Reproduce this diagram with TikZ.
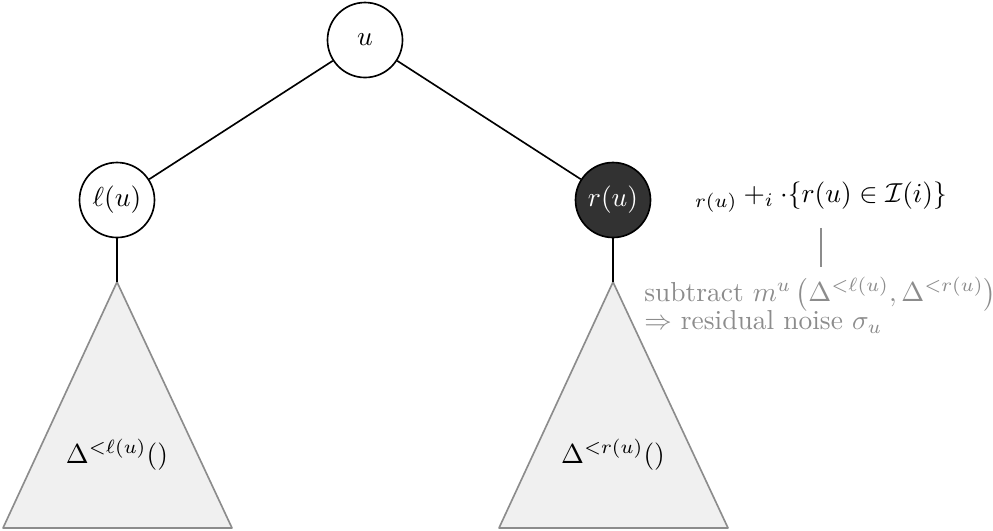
\documentclass[tikz,border=0pt]{standalone}
\usepackage{amsmath,amssymb}
\usepackage{xcolor}
\definecolor{darknode}{RGB}{50, 50, 50}
\definecolor{subtreefill}{RGB}{240, 240, 240}
\definecolor{softgray}{RGB}{140, 140, 140}
\usepackage{tikz}
\usetikzlibrary{positioning, calc}

\begin{document}
\begin{tikzpicture}[x=0.0128cm, y=-0.0128cm,
    treenode/.style={circle, draw, semithick, fill=white, minimum size=0.96cm, inner sep=0pt},
    marked/.style={treenode, fill=darknode, text=white},
    subtree/.style={draw=softgray, fill=subtreefill, semithick, line join=round},
    note/.style={text=softgray, align=left, inner sep=1pt}]
    \useasboundingbox (0,0) rectangle (993,530);
    % tree nodes
    \node[treenode] (u) at (365,40) {$u$};
    \node[treenode] (lu) at (117,200) {$\ell(u)$};
    \node[marked] (ru) at (613,200) {$r(u)$};
    \draw[semithick] (u) -- (lu);
    \draw[semithick] (u) -- (ru);
    % subtrees
    \coordinate (ltop) at (117,282);
    \coordinate (rtop) at (613,282);
    \draw[subtree] (ltop) -- (3,528) -- (232,528) -- cycle;
    \draw[subtree] (rtop) -- (499,528) -- (728,528) -- cycle;
    \draw[semithick] (lu) -- (ltop);
    \draw[semithick] (ru) -- (rtop);
    \node (ldelta) at (117,455) {$\Delta^{<\ell(u)}()$};
    \node (rdelta) at (613,455) {$\Delta^{<r(u)}()$};
    % annotation
    \node (ann) at (821,197) {$_{r(u)} +_i \cdot\{r(u) \in \mathcal{I}(i)\}$};
    \node[note, anchor=north west] (sub) at (641,274)
        {subtract $m^u\left(\Delta^{<\ell(u)}, \Delta^{<r(u)}\right)$\\[-2pt]
         $\Rightarrow$ residual noise $\sigma_u$};
    \draw[softgray, semithick] ($(ann.south)+(0,6)$) -- ($(ann.south |- sub.north)+(0,-7)$);
\end{tikzpicture}
\end{document}
